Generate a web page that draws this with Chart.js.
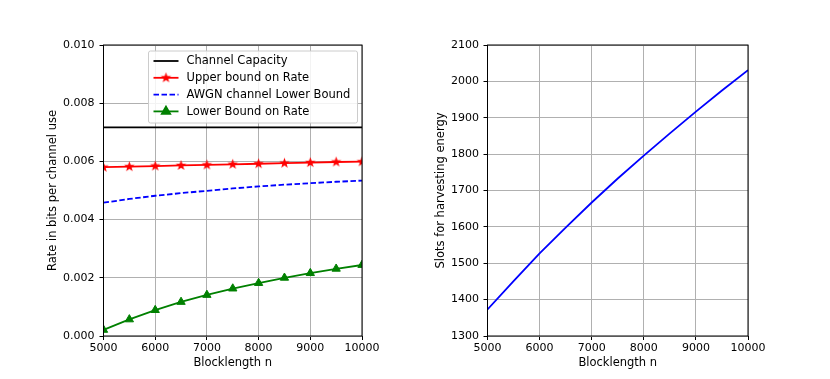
<!DOCTYPE html>
<html>
<head>
<meta charset="utf-8">
<script src="https://cdn.jsdelivr.net/npm/chart.js@4"></script>
<style>
  html, body { margin: 0; padding: 0; background: #fff; }
  #wrap { position: relative; width: 830px; height: 379px; }
  canvas { position: absolute; top: 0; }
  #left { left: 0; }
  #right { left: 415px; }
</style>
</head>
<body>
<div id="wrap">
  <canvas id="left" width="415" height="379"></canvas>
  <canvas id="right" width="415" height="379"></canvas>
</div>
<script>
const blocklength = [5000, 5500, 6000, 6500, 7000, 7500, 8000, 8500, 9000, 9500, 10000];
const capacityX = [5000, 10000];
const capacity = [0.00717, 0.00717];
const upperBound = [0.00580, 0.00582, 0.00584, 0.00586, 0.00588, 0.00590, 0.00592, 0.00594, 0.00596, 0.00598, 0.00599];
const awgnLower = [0.00458, 0.00471, 0.00482, 0.00491, 0.00499, 0.00507, 0.00514, 0.00520, 0.00525, 0.00530, 0.00534];
const lowerBound = [0.00021, 0.00057, 0.00089, 0.00117, 0.00141, 0.00163, 0.00182, 0.00200, 0.00216, 0.00231, 0.00244];
const slots = [1373, 1451, 1527, 1598, 1667, 1733, 1796, 1857, 1917, 1975, 2031];

const FONT = { family: 'DejaVu Sans', size: 11 };
const TITLE_FONT = { family: 'DejaVu Sans', size: 11.5 };
Chart.defaults.font.family = FONT.family;
Chart.defaults.font.size = FONT.size;
Chart.defaults.color = '#000';

// filled 5-point star like matplotlib '*'
const makeStar = (r, color) => {
  const c = document.createElement('canvas');
  c.width = c.height = Math.ceil(r * 2 + 2);
  const g = c.getContext('2d');
  const cx = c.width / 2, cy = c.height / 2;
  g.beginPath();
  for (let i = 0; i < 10; i++) {
    const rr = i % 2 === 0 ? r : r * 0.42;
    const a = -Math.PI / 2 + i * Math.PI / 5;
    g.lineTo(cx + rr * Math.cos(a), cy + rr * Math.sin(a));
  }
  g.closePath();
  g.fillStyle = color;
  g.fill();
  return c;
};
const star = makeStar(5.5, '#ff0000');

const framePlugin = {
  id: 'frame',
  afterDatasetsDraw: chart => {
    const { ctx, chartArea: a } = chart;
    ctx.save();
    ctx.strokeStyle = '#000';
    ctx.lineWidth = 1;
    ctx.strokeRect(a.left, a.top, a.right - a.left, a.bottom - a.top);
    ctx.restore();
  },
};

const legendPlugin = {
  id: 'boxLegend',
  afterDraw: chart => {
    const ctx = chart.ctx;
    const a = chart.chartArea;
    const x0 = a.left + 45, y0 = a.top + 6, w = 209, h = 72;
    ctx.save();
    ctx.fillStyle = 'rgba(255,255,255,0.85)';
    ctx.strokeStyle = '#cccccc';
    ctx.lineWidth = 1;
    ctx.beginPath();
    ctx.roundRect(x0, y0, w, h, 2);
    ctx.fill();
    ctx.stroke();
    ctx.font = `${TITLE_FONT.size}px ${TITLE_FONT.family}`;
    ctx.textBaseline = 'middle';
    chart.data.datasets.forEach((ds, i) => {
      const y = y0 + 10 + i * 16.8;
      ctx.strokeStyle = ds.borderColor;
      ctx.lineWidth = ds.borderWidth;
      ctx.setLineDash(ds.borderDash || []);
      ctx.beginPath();
      ctx.moveTo(x0 + 5, y);
      ctx.lineTo(x0 + 30, y);
      ctx.stroke();
      ctx.setLineDash([]);
      if (ds.pointRadius > 0) {
        Chart.helpers.drawPoint(ctx, {
          pointStyle: ds.pointStyle, radius: ds.pointRadius, borderWidth: 1,
        }, x0 + 17.5, y);
        if (ds.pointStyle !== star) { ctx.fillStyle = ds.backgroundColor; ctx.fill(); }
      }
      ctx.fillStyle = '#000';
      ctx.fillText(ds.label, x0 + 38, y + 0.5);
    });
    ctx.restore();
  },
};

const gridOpts = { color: '#b0b0b0', lineWidth: 1, tickColor: '#000', tickLength: 4, tickWidth: 1 };

const xScale = padBottom => ({
  type: 'linear', min: 5000, max: 10000,
  grid: gridOpts,
  border: { display: false },
  ticks: { stepSize: 1000, padding: 2, maxRotation: 0, autoSkip: false, callback: v => String(v) },
  title: { display: true, text: 'Blocklength n', font: TITLE_FONT, padding: { top: 0, bottom: padBottom } },
  afterFit: s => { s.height = 43; },
});

const toPts = (xs, ys) => xs.map((x, i) => ({ x, y: ys[i] }));

new Chart(document.getElementById('left'), {
  type: 'line',
  data: {
    datasets: [
      { label: 'Channel Capacity', data: toPts(capacityX, capacity), borderColor: '#000', backgroundColor: '#000', borderWidth: 1.8, pointRadius: 0, clip: 0 },
      { label: 'Upper bound on Rate', data: toPts(blocklength, upperBound), borderColor: '#ff0000', backgroundColor: '#ff0000', borderWidth: 1.8, pointStyle: star, pointRadius: 5.5, clip: 0 },
      { label: 'AWGN channel Lower Bound', data: toPts(blocklength, awgnLower), borderColor: '#0000ff', backgroundColor: '#0000ff', borderWidth: 1.8, borderDash: [5.5, 2.5], pointRadius: 0, clip: 0 },
      { label: 'Lower Bound on Rate', data: toPts(blocklength, lowerBound), borderColor: '#008000', backgroundColor: '#008000', borderWidth: 1.8, pointStyle: 'triangle', pointRadius: 4.8, pointBorderWidth: 1, clip: 0 },
    ],
  },
  options: {
    responsive: false,
    animation: false,
    events: [],
    layout: { padding: { left: 0, top: 45, right: 53, bottom: 0 } },
    scales: {
      x: xScale(9.5),
      y: {
        type: 'linear', min: 0, max: 0.01,
        grid: gridOpts,
        border: { display: false },
        ticks: { stepSize: 0.002, padding: 5, callback: v => v.toFixed(3) },
        title: { display: true, text: 'Rate in bits per channel use', font: TITLE_FONT, padding: { top: 46, bottom: 0 } },
        afterFit: s => { s.width = 103.5; },
      },
    },
    plugins: { legend: { display: false }, tooltip: { enabled: false } },
  },
  plugins: [framePlugin, legendPlugin],
});

new Chart(document.getElementById('right'), {
  type: 'line',
  data: {
    datasets: [
      { label: 'Slots', data: toPts(blocklength, slots), borderColor: '#0000ff', borderWidth: 1.8, pointRadius: 0, clip: 0 },
    ],
  },
  options: {
    responsive: false,
    animation: false,
    events: [],
    layout: { padding: { left: 0, top: 45, right: 82, bottom: 0 } },
    scales: {
      x: xScale(9.5),
      y: {
        type: 'linear', min: 1300, max: 2100,
        grid: gridOpts,
        border: { display: false },
        ticks: { stepSize: 100, padding: 4.5, callback: v => String(v) },
        title: { display: true, text: 'Slots for harvesting energy', font: TITLE_FONT, padding: { top: 19, bottom: 0 } },
        afterFit: s => { s.width = 72.5; },
      },
    },
    plugins: { legend: { display: false }, tooltip: { enabled: false } },
  },
  plugins: [framePlugin],
});
</script>
</body>
</html>
